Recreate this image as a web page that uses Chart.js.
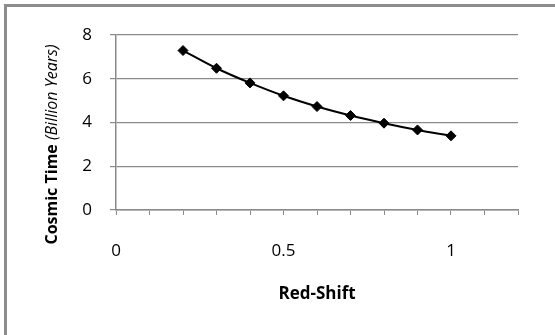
<!DOCTYPE html>
<html>
<head>
<meta charset="utf-8">
<script src="https://cdn.jsdelivr.net/npm/chart.js@4/dist/chart.umd.min.js"></script>
<style>
  html, body { margin: 0; padding: 0; background: #fff; overflow: hidden; }
  #wrap { position: relative; width: 555px; height: 335px; }
  #c { position: absolute; left: 0; top: 0; }
  #frame {
    position: absolute; left: 4px; top: 4px; width: 700px; height: 500px;
    border: 3px solid #8c8c8c; pointer-events: none;
  }
</style>
</head>
<body>
<div id="wrap">
  <canvas id="c" width="555" height="335"></canvas>
  <div id="frame"></div>
</div>
<script>
// Red-shift vs. cosmic time
const redShift   = [0.2, 0.3, 0.4, 0.5, 0.6, 0.7, 0.8, 0.9, 1.0];
const cosmicTime = [7.29, 6.48, 5.81, 5.22, 4.73, 4.32, 3.97, 3.66, 3.39];
const xTickLabels = [0, 0.5, 1];
const yTickValues = [0, 2, 4, 6, 8];

const xTitle = 'Red-Shift';
const yTitleBold = 'Cosmic Time ';
const yTitleItalic = '(Billion Years)';

const FONT = '"Open Sans", "Liberation Sans", sans-serif';
const AXIS_GRAY = '#8a8a8a';

// Axis titles: the y title mixes bold and italic runs
const axisTitles = {
  id: 'axisTitles',
  afterDraw(chart) {
    const ctx = chart.ctx;
    const area = chart.chartArea;
    ctx.save();
    ctx.fillStyle = '#000';
    ctx.textBaseline = 'middle';
    ctx.textAlign = 'center';
    ctx.font = 'bold 17px ' + FONT;
    ctx.fillText(xTitle, (area.left + area.right) / 2, area.bottom + 84);

    ctx.translate(area.left - 64, (area.top + area.bottom) / 2 + 22);
    ctx.rotate(-Math.PI / 2);
    ctx.textAlign = 'left';
    const boldFont = 'bold 16px ' + FONT;
    const italicFont = 'italic 16px ' + FONT;
    ctx.font = boldFont;
    const wb = ctx.measureText(yTitleBold).width;
    ctx.font = italicFont;
    const wi = ctx.measureText(yTitleItalic).width;
    let x = -(wb + wi) / 2;
    ctx.font = boldFont;
    ctx.fillText(yTitleBold, x, 0);
    ctx.font = italicFont;
    ctx.fillText(yTitleItalic, x + wb, 0);
    ctx.restore();
  }
};

new Chart(document.getElementById('c'), {
  type: 'scatter',
  data: {
    datasets: [{
      data: redShift.map((x, i) => ({ x: x, y: cosmicTime[i] })),
      showLine: true,
      tension: 0.3,
      borderColor: '#000',
      borderWidth: 2,
      backgroundColor: '#000',
      pointStyle: 'rectRot',
      pointRadius: 5,
      pointBorderWidth: 1,
      pointBorderColor: '#000',
      pointBackgroundColor: '#000'
    }]
  },
  options: {
    responsive: false,
    animation: false,
    events: [],
    layout: { padding: { left: 8, top: 35, right: 37, bottom: 0 } },
    plugins: { legend: { display: false }, tooltip: { enabled: false } },
    scales: {
      x: {
        type: 'linear',
        min: 0,
        max: 1.2,
        afterFit(scale) { scale.height = 125; },
        grid: {
          drawOnChartArea: false,
          drawTicks: true,
          tickLength: 5,
          color: AXIS_GRAY,
          lineWidth: 1
        },
        border: { display: true, color: AXIS_GRAY, width: 1.5 },
        ticks: {
          stepSize: 0.1,
          autoSkip: false,
          maxRotation: 0,
          padding: 26,
          color: '#000',
          font: { family: FONT, size: 17 },
          callback(value) {
            const v = Math.round(value * 10) / 10;
            const hit = xTickLabels.find(t => Math.abs(t - v) < 1e-6);
            return hit === undefined ? '' : String(hit);
          }
        }
      },
      y: {
        type: 'linear',
        min: 0,
        max: 8,
        afterFit(scale) { scale.width = 116 - 8; },
        afterBuildTicks(scale) { scale.ticks = yTickValues.map(v => ({ value: v })); },
        grid: {
          drawOnChartArea: true,
          drawTicks: true,
          tickLength: 6,
          color: AXIS_GRAY,
          lineWidth: 1.2
        },
        border: { display: true, color: AXIS_GRAY, width: 1.5 },
        ticks: {
          padding: 18,
          color: '#000',
          font: { family: FONT, size: 17 }
        }
      }
    }
  },
  plugins: [axisTitles]
});
</script>
</body>
</html>
